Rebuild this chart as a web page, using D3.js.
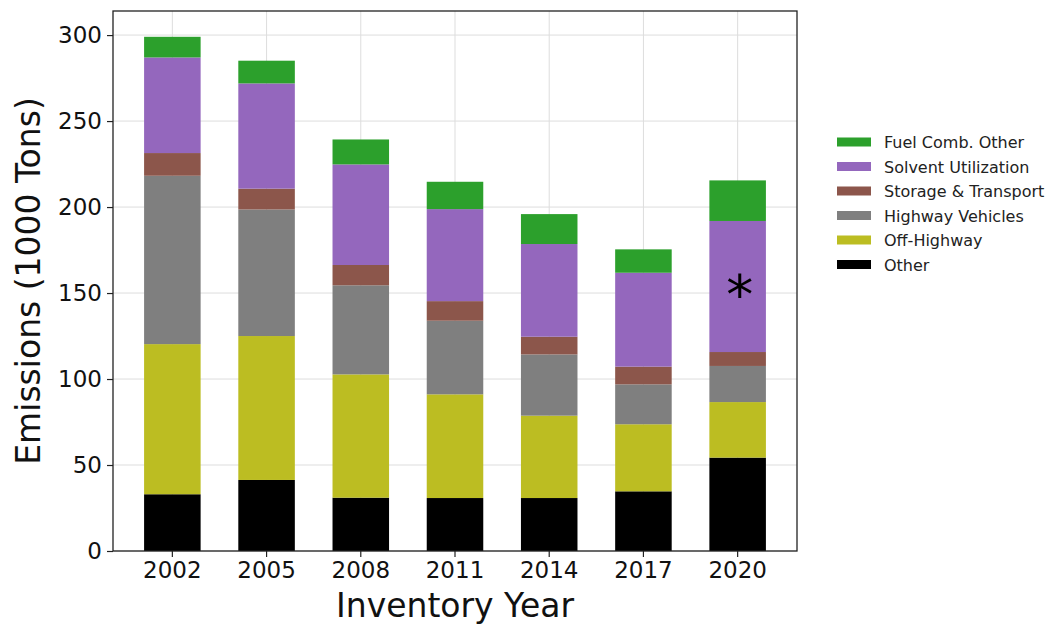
<!DOCTYPE html>
<html>
<head>
<meta charset="utf-8">
<script src="https://cdn.jsdelivr.net/npm/d3@7"></script>
<style>
  body { margin: 0; background: #fff; }
  svg text { font-family: "DejaVu Sans", sans-serif; }
</style>
</head>
<body>
<div id="chart"></div>
<script>
const years = ['2002', '2005', '2008', '2011', '2014', '2017', '2020'];

// stacked bottom to top
const sectors = ['Other', 'Off-Highway', 'Highway Vehicles', 'Storage & Transport', 'Solvent Utilization', 'Fuel Comb. Other'];
const other       = [33.0, 41.3, 31.0, 30.8, 30.8, 34.7, 54.3];
const offHighway  = [87.3, 83.7, 71.7, 60.3, 47.9, 39.0, 32.3];
const highway     = [97.9, 73.6, 51.8, 42.8, 35.6, 23.2, 21.0];
const storage     = [13.2, 12.1, 11.8, 11.4, 10.3, 10.3, 8.1];
const solvent     = [55.6, 61.2, 58.5, 53.5, 53.9, 54.6, 76.2];
const fuelOther   = [12.0, 13.2, 14.5, 15.9, 17.4, 13.6, 23.6];
const yTicks = [0, 50, 100, 150, 200, 250, 300];

const colors = ['#000000', '#bcbd22', '#7f7f7f', '#8c564b', '#9467bd', '#2ca02c'];

const WIDTH = 1056;
const HEIGHT = 626;
const margin = { left: 113, top: 11, right: 259, bottom: 75 };
const plotW = WIDTH - margin.left - margin.right;
const plotH = HEIGHT - margin.top - margin.bottom;

const seriesValues = [other, offHighway, highway, storage, solvent, fuelOther];
const rows = years.map((yr, i) => {
    const row = { year: yr };
    sectors.forEach((s, k) => { row[s] = seriesValues[k][i]; });
    return row;
});
const stacked = d3.stack().keys(sectors)(rows);

const svg = d3.select('#chart')
    .append('svg')
    .attr('width', WIDTH)
    .attr('height', HEIGHT);

const g = svg.append('g')
    .attr('transform', `translate(${margin.left},${margin.top})`);

const x = d3.scaleBand()
    .domain(years)
    .range([0, plotW])
    .paddingInner(0.4)
    .paddingOuter(0.33);

const y = d3.scaleLinear()
    .domain([0, 314])
    .range([plotH, 0]);

// grid
g.append('g')
    .selectAll('line.gy')
    .data(yTicks)
    .enter()
    .append('line')
    .attr('x1', 0)
    .attr('x2', plotW)
    .attr('y1', d => y(d))
    .attr('y2', d => y(d))
    .attr('stroke', '#dddddd')
    .attr('stroke-width', 1);

g.append('g')
    .selectAll('line.gx')
    .data(years)
    .enter()
    .append('line')
    .attr('x1', d => x(d) + x.bandwidth() / 2)
    .attr('x2', d => x(d) + x.bandwidth() / 2)
    .attr('y1', 0)
    .attr('y2', plotH)
    .attr('stroke', '#dddddd')
    .attr('stroke-width', 1);

// bars
g.selectAll('g.layer')
    .data(stacked)
    .enter()
    .append('g')
    .attr('fill', (d, i) => colors[i])
    .selectAll('rect')
    .data(d => d)
    .enter()
    .append('rect')
    .attr('x', d => x(d.data.year))
    .attr('y', d => y(d[1]))
    .attr('width', x.bandwidth())
    .attr('height', d => y(d[0]) - y(d[1]));

// asterisk over the 2020 solvent segment
const last = stacked[4][6];
g.append('text')
    .attr('x', x('2020') + x.bandwidth() / 2 + 2)
    .attr('y', y((last[0] + last[1]) / 2) + 26)
    .attr('text-anchor', 'middle')
    .attr('font-size', 54)
    .attr('fill', '#000')
    .text('*');

// axes
const yAxis = g.append('g')
    .call(d3.axisLeft(y).tickValues(yTicks).tickSize(6).tickPadding(5));
const xAxis = g.append('g')
    .attr('transform', `translate(0,${plotH})`)
    .call(d3.axisBottom(x).tickSize(6).tickPadding(5));

[yAxis, xAxis].forEach(a => {
    a.select('.domain').remove();
    a.selectAll('.tick line').attr('stroke', '#222').attr('stroke-width', 1.2);
    a.selectAll('.tick text')
        .attr('font-size', 23)
        .attr('fill', '#111')
        .style('font-family', '"DejaVu Sans", sans-serif');
});

// frame
g.append('rect')
    .attr('width', plotW)
    .attr('height', plotH)
    .attr('fill', 'none')
    .attr('stroke', '#222')
    .attr('stroke-width', 1.3);

// axis titles
svg.append('text')
    .attr('x', margin.left + plotW / 2)
    .attr('y', 617)
    .attr('text-anchor', 'middle')
    .attr('font-size', 33)
    .attr('fill', '#111')
    .text('Inventory Year');

svg.append('text')
    .attr('transform', `translate(40,${margin.top + plotH / 2}) rotate(-90)`)
    .attr('text-anchor', 'middle')
    .attr('font-size', 33)
    .attr('fill', '#111')
    .text('Emissions (1000 Tons)');

// legend, top entry = top of stack
const legendItems = sectors.map((s, i) => ({ name: s, color: colors[i] })).reverse();
const legend = svg.append('g')
    .attr('transform', 'translate(837,142)');

const item = legend.selectAll('g')
    .data(legendItems)
    .enter()
    .append('g')
    .attr('transform', (d, i) => `translate(0,${i * 24.5})`);

item.append('rect')
    .attr('x', 0)
    .attr('y', -4.5)
    .attr('width', 34)
    .attr('height', 9)
    .attr('fill', d => d.color);

item.append('text')
    .attr('x', 47)
    .attr('y', 6)
    .attr('font-size', 16)
    .attr('fill', '#222')
    .text(d => d.name);
</script>
</body>
</html>
